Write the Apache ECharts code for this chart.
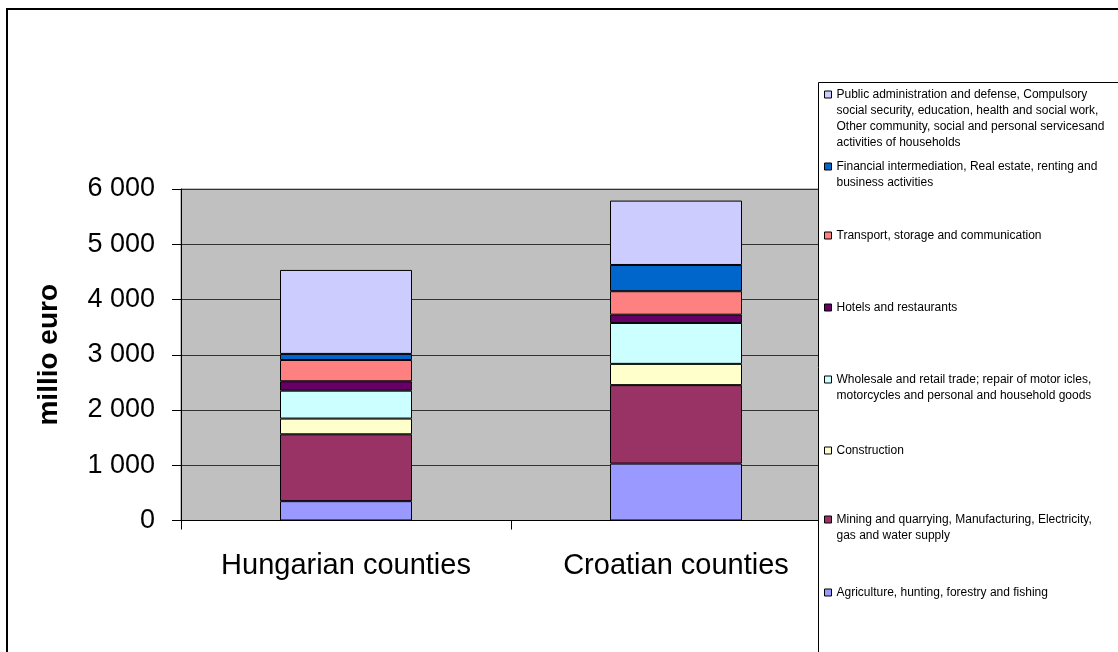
<!DOCTYPE html>
<html>
<head>
<meta charset="utf-8">
<script src="https://cdn.jsdelivr.net/npm/echarts@6/dist/echarts.min.js"></script>
<style>
html,body{margin:0;padding:0;background:#fff;}
#chart{width:1118px;height:652px;}
</style>
</head>
<body>
<div id="chart"></div>
<script>
// data (millio euro)
var categories = ['Hungarian counties', 'Croatian counties'];
var agriculture = [350, 1030];
var mining = [1210, 1420];
var construction = [285, 385];
var wholesale = [505, 740];
var hotels = [170, 150];
var transport = [385, 425];
var financial = [110, 475];
var publicAdmin = [1520, 1165];
var yTicks = [0, 1000, 2000, 3000, 4000, 5000, 6000];

var sectorNames = [
    'Agriculture, hunting, forestry and fishing',
    'Mining and quarrying, Manufacturing, Electricity, gas and water supply',
    'Construction',
    'Wholesale and retail trade; repair of motor icles, motorcycles and personal and household goods',
    'Hotels and restaurants',
    'Transport, storage and communication',
    'Financial intermediation, Real estate, renting and business activities',
    'Public administration and defense, Compulsory social security, education, health and social work, Other community, social and personal servicesand activities of households'
];
var legendLines = [
    ['Agriculture, hunting, forestry and fishing'],
    ['Mining and quarrying, Manufacturing, Electricity,', 'gas and water supply'],
    ['Construction'],
    ['Wholesale and retail trade; repair of motor icles,', 'motorcycles and personal and household goods'],
    ['Hotels and restaurants'],
    ['Transport, storage and communication'],
    ['Financial intermediation, Real estate, renting and', 'business activities'],
    ['Public administration and defense, Compulsory', 'social security, education, health and social work,', 'Other community, social and personal servicesand', 'activities of households']
];
var sectorValues = [agriculture, mining, construction, wholesale, hotels, transport, financial, publicAdmin];
var colors = ['#9999FF', '#993366', '#FFFFCC', '#CCFFFF', '#660066', '#FF8080', '#0066CC', '#CCCCFF'];
// vertical centre of each legend marker
var legendY = [592, 519, 450, 379, 307, 235, 166, 94];

var font = 'Liberation Sans, Arial, sans-serif';
var lineH = 16;

var series = [];
var legends = [];
for (var i = 0; i < sectorNames.length; i++) {
    series.push({
        name: sectorNames[i],
        type: 'bar',
        stack: 'total',
        barWidth: '40%',
        data: sectorValues[i],
        itemStyle: {color: colors[i], borderColor: '#000', borderWidth: 1}
    });
    (function (lines) {
        var n = lines.length;
        // blank lines in front keep the first text line level with the marker
        var text = new Array(n).join('\n') + lines.join('\n');
        legends.push({
            data: [sectorNames[i]],
            left: 824,
            top: legendY[i] - (2 * n - 1) * lineH / 2 + 0.5,
            padding: 0,
            itemWidth: 7,
            itemHeight: 7,
            icon: 'rect',
            selectedMode: false,
            z: 60,
            itemStyle: {borderColor: '#000', borderWidth: 1},
            formatter: function () { return text; },
            textStyle: {
                fontFamily: font,
                fontSize: 12,
                lineHeight: lineH,
                color: '#000'
            }
        });
    })(legendLines[i]);
}

var myChart = echarts.init(document.getElementById('chart'));
myChart.setOption({
    animation: false,
    textStyle: {fontFamily: font},
    grid: {
        left: 181,
        top: 189,
        width: 660,
        height: 331.5,
        show: true,
        backgroundColor: '#C0C0C0',
        borderColor: '#808080',
        borderWidth: 1
    },
    legend: legends,
    xAxis: [{
        type: 'category',
        data: categories,
        axisLine: {lineStyle: {color: '#000', width: 1}},
        axisTick: {show: true, length: 9, lineStyle: {color: '#000'}},
        axisLabel: {fontSize: 29, color: '#000', margin: 31, fontFamily: font}
    }],
    yAxis: [{
        type: 'value',
        min: yTicks[0],
        max: yTicks[yTicks.length - 1],
        interval: 1000,
        name: 'millio euro',
        nameLocation: 'middle',
        nameRotate: 90,
        nameGap: 118,
        nameTextStyle: {fontSize: 28, fontWeight: 'bold', color: '#000', fontFamily: font},
        axisLine: {show: true, lineStyle: {color: '#000', width: 1}},
        axisTick: {show: true, length: 9, lineStyle: {color: '#000'}},
        splitLine: {show: true, lineStyle: {color: '#333', width: 1}},
        axisLabel: {
            fontSize: 27,
            color: '#000',
            margin: 26,
            fontFamily: font,
            formatter: function (v) {
                return String(v).replace(/\B(?=(\d{3})+(?!\d))/g, ' ');
            }
        }
    }],
    graphic: [
        {
            type: 'rect',
            z: 50,
            shape: {x: 7, y: 9, width: 1200, height: 800},
            style: {fill: 'none', stroke: '#000', lineWidth: 2}
        },
        {
            type: 'rect',
            z: 55,
            shape: {x: 818.5, y: 82.5, width: 400, height: 700},
            style: {fill: '#fff', stroke: '#000', lineWidth: 1}
        }
    ],
    series: series
});
</script>
</body>
</html>
